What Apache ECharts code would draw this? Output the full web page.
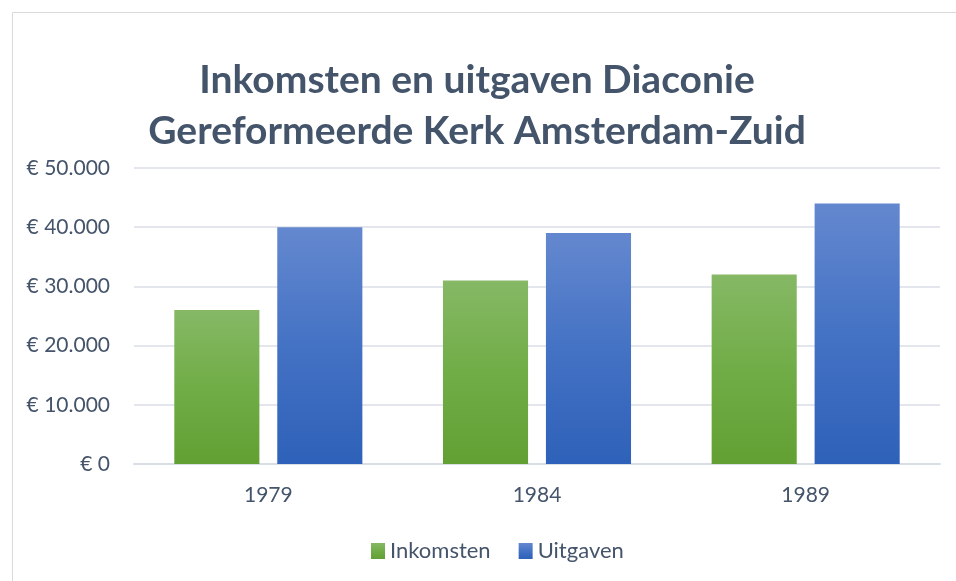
<!DOCTYPE html>
<html>
<head>
<meta charset="utf-8">
<script src="https://cdn.jsdelivr.net/npm/echarts@6/dist/echarts.min.js"></script>
<style>
html,body{margin:0;padding:0;background:#fff;}
#chart{width:956px;height:581px;}
</style>
</head>
<body>
<div id="chart"></div>
<script>
const categories = ['1979', '1984', '1989'];
const inkomsten = [26000, 31000, 32000];
const uitgaven = [40000, 39000, 44000];
const yTicks = [0, 10000, 20000, 30000, 40000, 50000];

const txt = '#44546A';
const font = 'Lato';

function grad(top, mid, bot) {
  return new echarts.graphic.LinearGradient(0, 0, 0, 1, [
    {offset: 0, color: top}, {offset: 0.5, color: mid}, {offset: 1, color: bot}
  ]);
}
const greenFill = grad('#86B865', '#70AD47', '#62A033');
const blueFill = grad('#6488CF', '#4472C4', '#2E61B9');

function fmt(v) {
  return '€ ' + (v === 0 ? '0' : v.toLocaleString('de-DE'));
}

const chart = echarts.init(document.getElementById('chart'), null, {renderer: 'canvas'});
chart.setOption({
  animation: false,
  backgroundColor: '#fff',
  textStyle: {fontFamily: font},
  graphic: [{
    type: 'rect', left: 10, top: 10,
    shape: {x: 0, y: 0, width: 960, height: 600},
    style: {fill: 'none', stroke: '#D9D9D9', lineWidth: 1}
  }],
  title: {
    text: 'Inkomsten en uitgaven Diaconie\nGereformeerde Kerk Amsterdam-Zuid',
    left: 472, top: 50, textAlign: 'center',
    textStyle: {color: txt, fontFamily: font, fontWeight: 'bold', fontSize: 39, lineHeight: 51}
  },
  legend: {
    data: ['Inkomsten', 'Uitgaven'],
    left: 366, top: 535,
    itemWidth: 14, itemHeight: 16, itemGap: 28,
    icon: 'rect',
    textStyle: {color: txt, fontFamily: font, fontSize: 22, padding: [0, 0, 0, 0]}
  },
  grid: {left: 134, right: 16, top: 168, bottom: 117, containLabel: false},
  xAxis: {
    type: 'category', data: categories,
    axisLine: {lineStyle: {color: '#D9DDE5', width: 2}},
    axisTick: {show: false},
    axisLabel: {color: txt, fontSize: 21, margin: 21, fontFamily: font}
  },
  yAxis: {
    type: 'value', min: yTicks[0], max: yTicks[yTicks.length - 1], interval: 10000,
    axisLine: {show: false}, axisTick: {show: false},
    splitLine: {lineStyle: {color: '#E3E6EC', width: 2}},
    axisLabel: {color: txt, fontSize: 21, margin: 24, fontFamily: font, formatter: fmt}
  },
  series: [
    {name: 'Inkomsten', type: 'bar', data: inkomsten, barGap: '21%', barCategoryGap: '30%',
     itemStyle: {color: greenFill}},
    {name: 'Uitgaven', type: 'bar', data: uitgaven, barGap: '21%', barCategoryGap: '30%',
     itemStyle: {color: blueFill}}
  ]
});
</script>
</body>
</html>
